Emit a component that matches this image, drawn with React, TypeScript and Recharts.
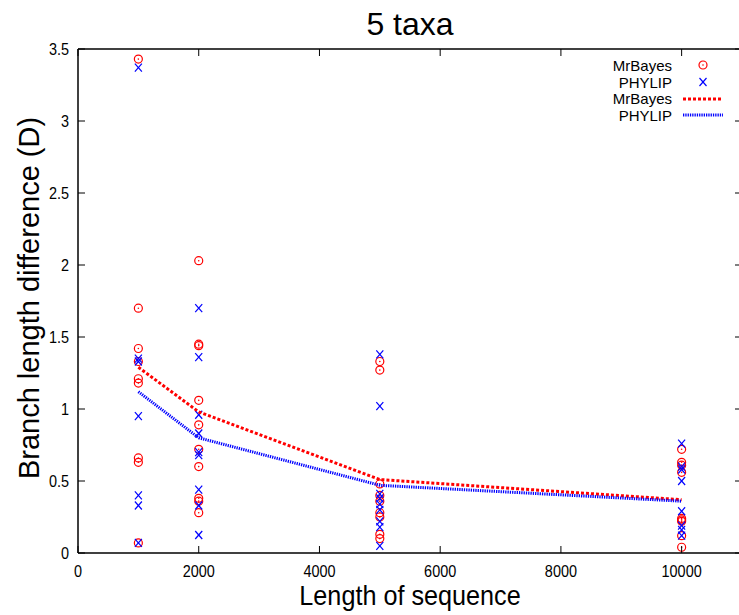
import { Scatter, ScatterChart, XAxis, YAxis } from "recharts";

const lengths = [1000, 2000, 5000, 10000];

// per-run branch length differences
const mrbayes1000 = [3.43, 1.7, 1.42, 1.33, 1.21, 1.18, 0.66, 0.63, 0.07];
const phylip1000 = [3.37, 1.35, 1.33, 0.95, 0.4, 0.33, 0.07];
const mrbayes2000 = [2.03, 1.45, 1.44, 1.06, 0.89, 0.72, 0.6, 0.38, 0.36, 0.28];
const phylip2000 = [1.7, 1.36, 0.96, 0.83, 0.7, 0.68, 0.44, 0.33, 0.125];
const mrbayes5000 = [1.33, 1.27, 0.48, 0.4, 0.36, 0.28, 0.25, 0.13, 0.1];
const phylip5000 = [1.38, 1.02, 0.41, 0.38, 0.34, 0.3, 0.22, 0.18, 0.05];
const mrbayes10000 = [0.72, 0.63, 0.61, 0.56, 0.24, 0.23, 0.22, 0.12, 0.04];
const phylip10000 = [0.76, 0.6, 0.58, 0.5, 0.29, 0.19, 0.16, 0.12];

// averages (dotted lines)
const mrbayesMean = [1.29, 0.98, 0.51, 0.37];
const phylipMean = [1.12, 0.8, 0.47, 0.36];

const xTicks = [0, 2000, 4000, 6000, 8000, 10000];
const yTicks = [0, 0.5, 1, 1.5, 2, 2.5, 3, 3.5];

const RED = "#ff0000";
const BLUE = "#0000ff";
const SANS = "'Liberation Sans', Arial, sans-serif";
// the original's labels are a bit condensed
const SQUEEZE = 0.85;

const toPoints = (x: number, ys: number[]) => ys.map((y) => ({ x, y }));

const mrbayesPoints = [
  ...toPoints(lengths[0], mrbayes1000),
  ...toPoints(lengths[1], mrbayes2000),
  ...toPoints(lengths[2], mrbayes5000),
  ...toPoints(lengths[3], mrbayes10000),
];
const phylipPoints = [
  ...toPoints(lengths[0], phylip1000),
  ...toPoints(lengths[1], phylip2000),
  ...toPoints(lengths[2], phylip5000),
  ...toPoints(lengths[3], phylip10000),
];
const mrbayesLine = lengths.map((x, i) => ({ x, y: mrbayesMean[i] }));
const phylipLine = lengths.map((x, i) => ({ x, y: phylipMean[i] }));

const TICK_LEN = 7;

function CircleDot(props: any) {
  const { cx, cy } = props;
  return (
    <g>
      <circle cx={cx} cy={cy} r={4} fill="none" stroke={RED} strokeWidth={1.2} />
      <circle cx={cx} cy={cy} r={0.8} fill={RED} />
    </g>
  );
}

function Cross(props: any) {
  const { cx, cy } = props;
  return (
    <g stroke={BLUE} strokeWidth={1.2}>
      <line x1={cx - 3.5} y1={cy - 4} x2={cx + 3.5} y2={cy + 4} />
      <line x1={cx - 3.5} y1={cy + 4} x2={cx + 3.5} y2={cy - 4} />
    </g>
  );
}

const NoShape = () => <g />;

function BottomTick(props: any) {
  const { x, y, payload } = props;
  return (
    <g>
      <line x1={x} y1={y} x2={x} y2={y - TICK_LEN} stroke="#000" strokeWidth={1} />
      <g transform={`translate(${x}, ${y + 24}) scale(${SQUEEZE}, 1)`}>
        <text x={0} y={0} textAnchor="middle" fontSize={17} fontFamily={SANS} fill="#000">
          {payload.value}
        </text>
      </g>
    </g>
  );
}

function TopTick(props: any) {
  const { x, y } = props;
  return <line x1={x} y1={y} x2={x} y2={y + TICK_LEN} stroke="#000" strokeWidth={1} />;
}

function LeftTick(props: any) {
  const { x, y, payload } = props;
  return (
    <g>
      <line x1={x} y1={y} x2={x + TICK_LEN} y2={y} stroke="#000" strokeWidth={1} />
      <g transform={`translate(${x - 9}, ${y + 6}) scale(${SQUEEZE}, 1)`}>
        <text x={0} y={0} textAnchor="end" fontSize={17} fontFamily={SANS} fill="#000">
          {payload.value}
        </text>
      </g>
    </g>
  );
}

function RightTick(props: any) {
  const { x, y } = props;
  return <line x1={x} y1={y} x2={x - TICK_LEN} y2={y} stroke="#000" strokeWidth={1} />;
}

const legendRows = [
  { name: "MrBayes", kind: "point", color: RED },
  { name: "PHYLIP", kind: "point", color: BLUE },
  { name: "MrBayes", kind: "line", color: RED },
  { name: "PHYLIP", kind: "line", color: BLUE },
];

function GnuLegend() {
  return (
    <div
      style={{
        position: "absolute",
        top: 57,
        left: 560,
        fontFamily: SANS,
        fontSize: 15,
        color: "#000",
      }}
    >
      {legendRows.map((r, i) => (
        <div key={i} style={{ display: "flex", alignItems: "center", height: 16.7 }}>
          <div style={{ width: 112, textAlign: "right", lineHeight: "15px" }}>{r.name}</div>
          <svg width={50} height={16} style={{ marginLeft: 6 }}>
            {r.kind === "point" && r.color === RED && <CircleDot cx={25} cy={8} />}
            {r.kind === "point" && r.color === BLUE && <Cross cx={25} cy={8} />}
            {r.kind === "line" && (
              <line
                x1={5}
                y1={8}
                x2={45}
                y2={8}
                stroke={r.color}
                strokeWidth={3}
                strokeDasharray={r.color === RED ? "3 2" : "1.3 1"}
              />
            )}
          </svg>
        </div>
      ))}
    </div>
  );
}

export default function App() {
  return (
    <div
      style={{
        position: "absolute",
        left: 0,
        top: 0,
        width: 739,
        height: 615,
        overflow: "hidden",
        background: "#fff",
        fontFamily: SANS,
      }}
    >
      <div
        style={{
          position: "absolute",
          left: 0,
          width: 820,
          top: 6,
          textAlign: "center",
          fontSize: 32,
          fontFamily: SANS,
          lineHeight: "36px",
        }}
      >
        5 taxa
      </div>
      <ScatterChart width={745} height={615} margin={{ top: 0, right: 0, bottom: 0, left: 0 }}>
        <XAxis
          type="number"
          dataKey="x"
          domain={[0, 11000]}
          ticks={xTicks}
          height={62}
          tickSize={0}
          tickMargin={0}
          tickLine={false}
          tick={<BottomTick />}
          axisLine={{ stroke: "#000", strokeWidth: 1.5 }}
          allowDataOverflow
          label={{
            content: ({ viewBox }: any) => (
              <g transform={`translate(${viewBox.x + viewBox.width / 2}, ${viewBox.y + 52}) scale(0.9, 1)`}>
                <text x={0} y={0} textAnchor="middle" fontSize={28} fontFamily={SANS} fill="#000">
                  Length of sequence
                </text>
              </g>
            ),
          }}
        />
        <XAxis
          xAxisId="top"
          orientation="top"
          type="number"
          dataKey="x"
          domain={[0, 11000]}
          ticks={xTicks}
          height={49}
          tickSize={0}
          tickMargin={0}
          tickLine={false}
          tick={<TopTick />}
          axisLine={{ stroke: "#000", strokeWidth: 1.5 }}
          allowDataOverflow
        />
        <YAxis
          type="number"
          dataKey="y"
          domain={[0, 3.5]}
          ticks={yTicks}
          width={78}
          tickSize={0}
          tickMargin={0}
          tickLine={false}
          tick={<LeftTick />}
          axisLine={{ stroke: "#000", strokeWidth: 1.5 }}
          allowDataOverflow
          label={{
            content: ({ viewBox }: any) => {
              const cx = 39;
              const cy = viewBox.y + viewBox.height / 2 - 3;
              return (
                <text
                  x={cx}
                  y={cy}
                  transform={`rotate(-90, ${cx}, ${cy})`}
                  textAnchor="middle"
                  fontSize={29}
                  fontFamily={SANS}
                  fill="#000"
                >
                  Branch length difference (D)
                </text>
              );
            },
          }}
        />
        <YAxis
          yAxisId="right"
          orientation="right"
          type="number"
          dataKey="y"
          domain={[0, 3.5]}
          ticks={yTicks}
          width={3}
          tickSize={0}
          tickMargin={0}
          tickLine={false}
          tick={<RightTick />}
          axisLine={{ stroke: "#000", strokeWidth: 1.5 }}
          allowDataOverflow
        />
        <Scatter name="MrBayes" data={mrbayesPoints} shape={<CircleDot />} isAnimationActive={false} />
        <Scatter name="PHYLIP" data={phylipPoints} shape={<Cross />} isAnimationActive={false} />
        <Scatter
          name="MrBayes mean"
          data={mrbayesLine}
          shape={<NoShape />}
          line={{ stroke: RED, strokeWidth: 3, strokeDasharray: "3 2", fill: "none" }}
          isAnimationActive={false}
        />
        <Scatter
          name="PHYLIP mean"
          data={phylipLine}
          shape={<NoShape />}
          line={{ stroke: BLUE, strokeWidth: 3, strokeDasharray: "1.3 1", fill: "none" }}
          isAnimationActive={false}
        />
      </ScatterChart>
      <GnuLegend />
    </div>
  );
}
